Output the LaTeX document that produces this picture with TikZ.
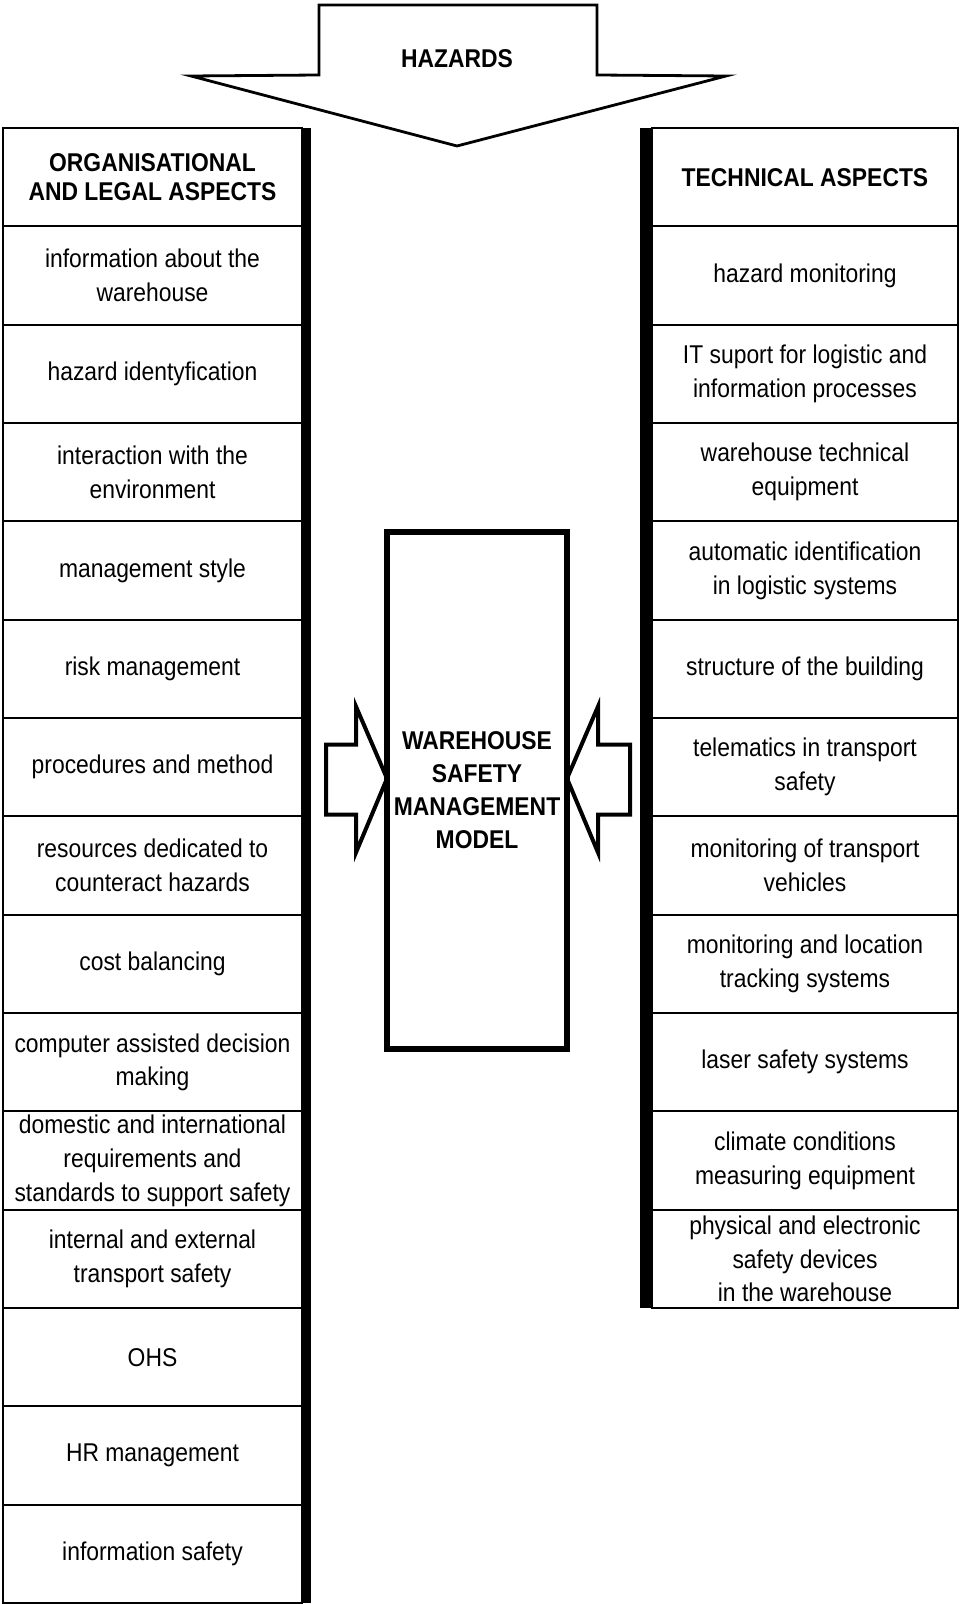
\documentclass[tikz,border=0pt]{standalone}
\usepackage{fontspec}
\setmainfont{Liberation Sans}[FakeStretch=0.89]
\usetikzlibrary{positioning}

\begin{document}
\begin{tikzpicture}[
    x=0.5pt, y=-0.5pt,
    node distance=0pt,
    cell/.style={draw=black, line width=1pt, outer sep=0pt, inner sep=1pt, minimum height=49.17pt, align=center, font=\fontsize{12.85pt}{16.9pt}\selectfont},
    lcell/.style={cell, minimum width=149.5pt},
    rcell/.style={cell, minimum width=153pt},
    headcell/.style={font=\fontsize{12.85pt}{14.8pt}\selectfont\bfseries},
    modelbox/.style={draw=black, line width=3pt, outer sep=0pt, minimum width=90pt, minimum height=258.5pt, align=center, font=\fontsize{12.85pt}{16.5pt}\selectfont\bfseries},
    blockarrow/.style={draw=black, line width=2pt, line join=miter},
    ]
    \useasboundingbox (0,0) rectangle (960,1604);

    % hazards arrow on top
    \draw[line width=1.4pt, line join=miter] (319,5) -- (597,5) -- (597,75) -- (726,76) -- (457,146) -- (191,76) -- (319,75) -- cycle;
    \node[font=\fontsize{12.85pt}{15pt}\selectfont\bfseries] (hazards) at (457,59) {HAZARDS};

    % left column
    \node[lcell, headcell] (l1) at (152.5,177.2) {ORGANISATIONAL\\AND LEGAL ASPECTS};
    \node[lcell] (l2)  [below=of l1]  {information about the\\warehouse};
    \node[lcell] (l3)  [below=of l2]  {hazard identyfication};
    \node[lcell] (l4)  [below=of l3]  {interaction with the\\environment};
    \node[lcell] (l5)  [below=of l4]  {management style};
    \node[lcell] (l6)  [below=of l5]  {risk management};
    \node[lcell] (l7)  [below=of l6]  {procedures and method};
    \node[lcell] (l8)  [below=of l7]  {resources dedicated to\\counteract hazards};
    \node[lcell] (l9)  [below=of l8]  {cost balancing};
    \node[lcell] (l10) [below=of l9]  {computer assisted decision\\making};
    \node[lcell] (l11) [below=of l10] {domestic and international\\requirements and\\standards to support safety};
    \node[lcell] (l12) [below=of l11] {internal and external\\transport safety};
    \node[lcell] (l13) [below=of l12] {OHS};
    \node[lcell] (l14) [below=of l13] {HR management};
    \node[lcell] (l15) [below=of l14] {information safety};
    \fill[black] (l1.north east) rectangle ([xshift=4.5pt]l15.south east);

    % right column
    \node[rcell, headcell] (r1) at (805,177.2) {TECHNICAL ASPECTS};
    \node[rcell] (r2)  [below=of r1]  {hazard monitoring};
    \node[rcell] (r3)  [below=of r2]  {IT suport for logistic and\\information processes};
    \node[rcell] (r4)  [below=of r3]  {warehouse technical\\equipment};
    \node[rcell] (r5)  [below=of r4]  {automatic identification\\in logistic systems};
    \node[rcell] (r6)  [below=of r5]  {structure of the building};
    \node[rcell] (r7)  [below=of r6]  {telematics in transport\\safety};
    \node[rcell] (r8)  [below=of r7]  {monitoring of transport\\vehicles};
    \node[rcell] (r9)  [below=of r8]  {monitoring and location\\tracking systems};
    \node[rcell] (r10) [below=of r9]  {laser safety systems};
    \node[rcell] (r11) [below=of r10] {climate conditions\\measuring equipment};
    \node[rcell] (r12) [below=of r11] {physical and electronic\\safety devices\\in the warehouse};
    \fill[black] ([xshift=-6pt]r1.north west) rectangle (r12.south west);

    % model in the middle
    \node[modelbox] (model) at (477,790.5) {WAREHOUSE\\SAFETY\\MANAGEMENT\\MODEL};
    \draw[blockarrow] ([yshift=6pt]model.west) -- ++(-31,-72) -- ++(0,38) -- ++(-30,0) -- ++(0,70) -- ++(30,0) -- ++(0,38) -- cycle;
    \draw[blockarrow] ([yshift=6pt]model.east) -- ++(31,-72) -- ++(0,38) -- ++(32,0) -- ++(0,70) -- ++(-32,0) -- ++(0,38) -- cycle;
\end{tikzpicture}
\end{document}
